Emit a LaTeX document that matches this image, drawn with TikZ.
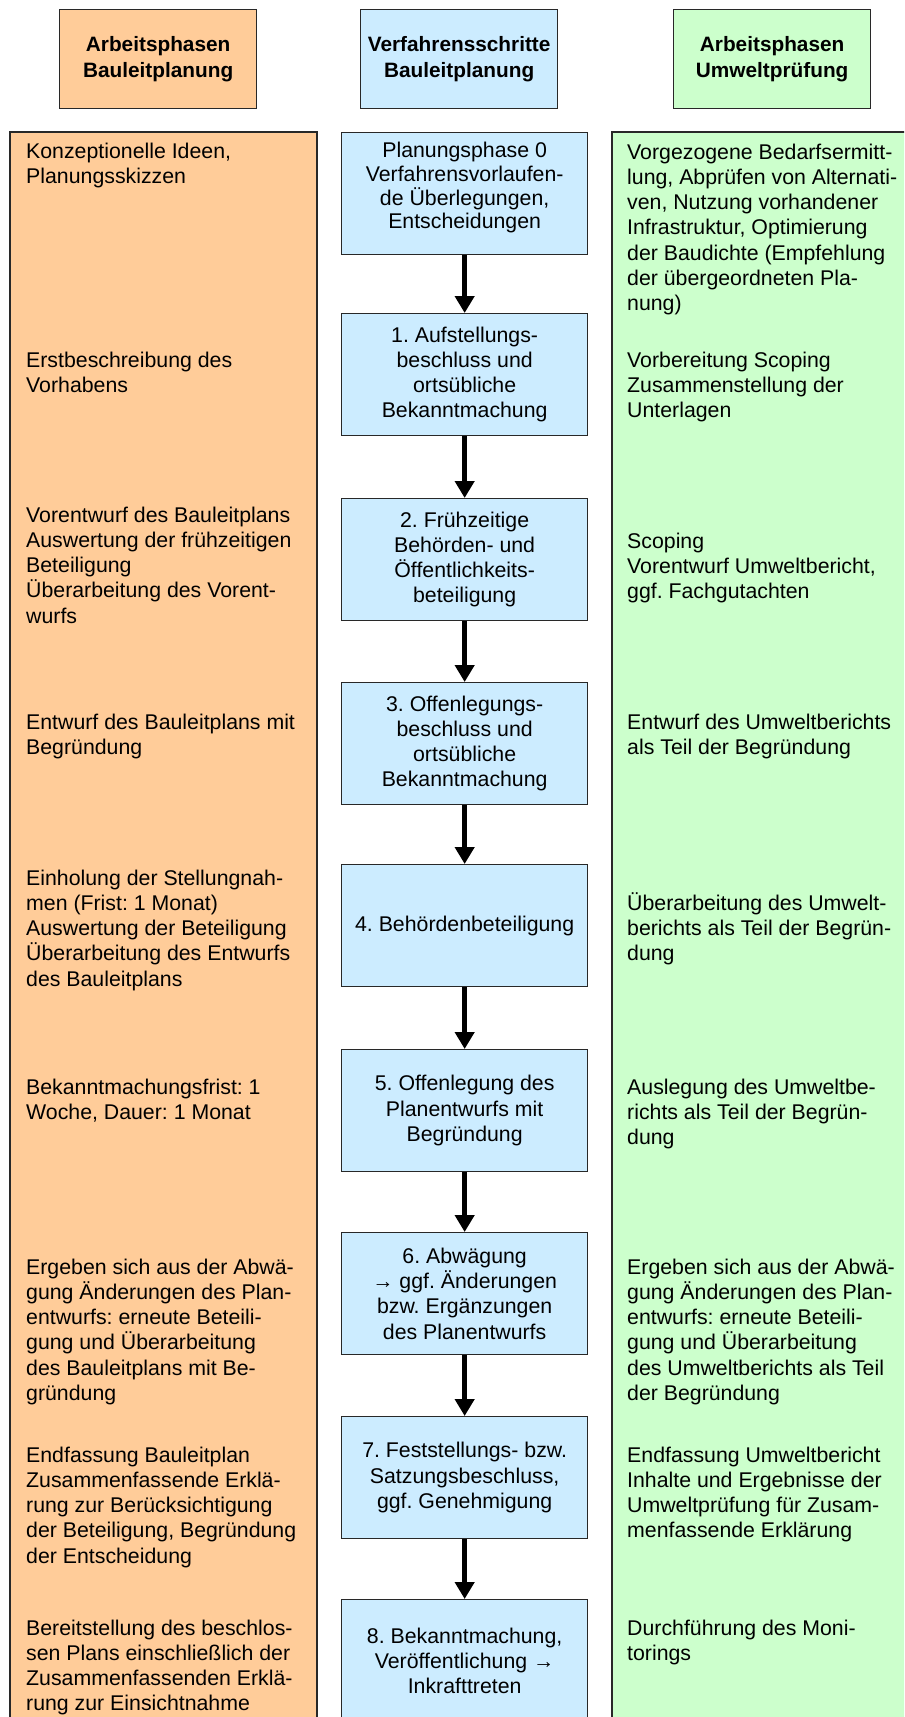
\documentclass[tikz,border=0pt]{standalone}
\usepackage{fontspec}
\setmainfont{Liberation Sans}
\frenchspacing
\usetikzlibrary{arrows.meta}
\definecolor{orangefill}{RGB}{255,204,153}
\definecolor{bluefill}{RGB}{204,236,255}
\definecolor{greenfill}{RGB}{204,255,204}
\definecolor{edge}{RGB}{40,40,40}
\newcommand{\bodyfont}{\fontsize{21.3bp}{25.2bp}\selectfont}
\newcommand{\hdrfont}{\fontsize{20.8bp}{26.5bp}\selectfont\bfseries}
\newcommand{\fl}{\rule{0pt}{20bp}}
\begin{document}
\begin{tikzpicture}[x=1bp,y=-1bp,
  frame/.style={draw=edge, line width=1.3bp},
  hdrbox/.style={frame, anchor=north west, minimum width=197bp, minimum height=99bp,
    inner sep=0pt, align=center, font=\hdrfont},
  stepbox/.style={frame, fill=bluefill, anchor=north west, minimum width=246bp,
    minimum height=122bp, inner sep=0pt, align=center, font=\bodyfont},
  coltext/.style={anchor=north west, inner sep=0pt, align=left, font=\bodyfont},
  flow/.style={line width=5.5bp, black, -{Triangle[width=19bp,length=17bp]}}
]
\path[use as bounding box] (0,0) rectangle (904,1717);
\fill[white] (0,0) rectangle (904,1717);
\begin{scope}
\clip (0,0) rectangle (904,1717);

% headers
\node[hdrbox, fill=orangefill] (h1) at (59,9) {Arbeitsphasen\\Bauleitplanung};
\node[hdrbox, fill=bluefill] (h2) at (360,9) {Verfahrensschritte\\Bauleitplanung};
\node[hdrbox, fill=greenfill] (h3) at (673,9) {Arbeitsphasen\\Umweltprüfung};

% columns
\filldraw[frame, fill=orangefill] (10,132) rectangle (317,1760);
\filldraw[frame, fill=greenfill] (612,132) rectangle (930,1760);

% steps
\node[stepbox, font=\fontsize{21.3bp}{23.7bp}\selectfont] (b0) at (341,132) {Planungsphase 0\\Verfahrensvorlaufen-\\de Überlegungen,\\Entscheidungen\rule[-16bp]{0pt}{16bp}};
\node[stepbox] (b1) at (341,313) {1. Aufstellungs-\\beschluss und\\ortsübliche\\Bekanntmachung};
\node[stepbox] (b2) at (341,498) {2. Frühzeitige\\Behörden- und\\Öffentlichkeits-\\beteiligung};
\node[stepbox] (b3) at (341,682) {3. Offenlegungs-\\beschluss und\\ortsübliche\\Bekanntmachung};
\node[stepbox] (b4) at (341,864) {4. Behördenbeteiligung};
\node[stepbox] (b5) at (341,1049) {5. Offenlegung des\\Planentwurfs mit\\Begründung};
\node[stepbox] (b6) at (341,1232) {6. Abwägung\\→ ggf. Änderungen\\bzw. Ergänzungen\\des Planentwurfs};
\node[stepbox] (b7) at (341,1416) {7. Feststellungs- bzw.\\Satzungsbeschluss,\\ggf. Genehmigung};
\node[stepbox] (b8) at (341,1599) {8. Bekanntmachung,\\Veröffentlichung →\\Inkrafttreten};

\foreach \a/\b in {b0/b1,b1/b2,b2/b3,b3/b4,b4/b5,b5/b6,b6/b7,b7/b8}
  \draw[flow] (\a.south) -- (\b.north);

% left column texts
\node[coltext] (l0) at (26,138) {\fl Konzeptionelle Ideen,\\Planungsskizzen};
\node[coltext] (l1) at (26,347) {\fl Erstbeschreibung des\\Vorhabens};
\node[coltext] (l2) at (26,502) {\fl Vorentwurf des Bauleitplans\\Auswertung der frühzeitigen\\Beteiligung\\Überarbeitung des Vorent-\\wurfs};
\node[coltext] (l3) at (26,709) {\fl Entwurf des Bauleitplans mit\\Begründung};
\node[coltext] (l4) at (26,865) {\fl Einholung der Stellungnah-\\men (Frist: 1 Monat)\\Auswertung der Beteiligung\\Überarbeitung des Entwurfs\\des Bauleitplans};
\node[coltext] (l5) at (26,1074) {\fl Bekanntmachungsfrist: 1\\Woche, Dauer: 1 Monat};
\node[coltext] (l6) at (26,1254) {\fl Ergeben sich aus der Abwä-\\gung Änderungen des Plan-\\entwurfs: erneute Beteili-\\gung und Überarbeitung\\des Bauleitplans mit Be-\\gründung};
\node[coltext] (l7) at (26,1442) {\fl Endfassung Bauleitplan\\Zusammenfassende Erklä-\\rung zur Berücksichtigung\\der Beteiligung, Begründung\\der Entscheidung};
\node[coltext] (l8) at (26,1615) {\fl Bereitstellung des beschlos-\\sen Plans einschließlich der\\Zusammenfassenden Erklä-\\rung zur Einsichtnahme};

% right column texts
\node[coltext] (r0) at (627,139) {\fl Vorgezogene Bedarfsermitt-\\lung, Abprüfen von Alternati-\\ven, Nutzung vorhandener\\Infrastruktur, Optimierung\\der Baudichte (Empfehlung\\der übergeordneten Pla-\\nung)};
\node[coltext] (r1) at (627,347) {\fl Vorbereitung Scoping\\Zusammenstellung der\\Unterlagen};
\node[coltext] (r2) at (627,528) {\fl Scoping\\Vorentwurf Umweltbericht,\\ggf. Fachgutachten};
\node[coltext] (r3) at (627,709) {\fl Entwurf des Umweltberichts\\als Teil der Begründung};
\node[coltext] (r4) at (627,890) {\fl Überarbeitung des Umwelt-\\berichts als Teil der Begrün-\\dung};
\node[coltext] (r5) at (627,1074) {\fl Auslegung des Umweltbe-\\richts als Teil der Begrün-\\dung};
\node[coltext] (r6) at (627,1254) {\fl Ergeben sich aus der Abwä-\\gung Änderungen des Plan-\\entwurfs: erneute Beteili-\\gung und Überarbeitung\\des Umweltberichts als Teil\\der Begründung};
\node[coltext] (r7) at (627,1442) {\fl Endfassung Umweltbericht\\Inhalte und Ergebnisse der\\Umweltprüfung für Zusam-\\menfassende Erklärung};
\node[coltext] (r8) at (627,1615) {\fl Durchführung des Moni-\\torings};
\end{scope}
\end{tikzpicture}
\end{document}
